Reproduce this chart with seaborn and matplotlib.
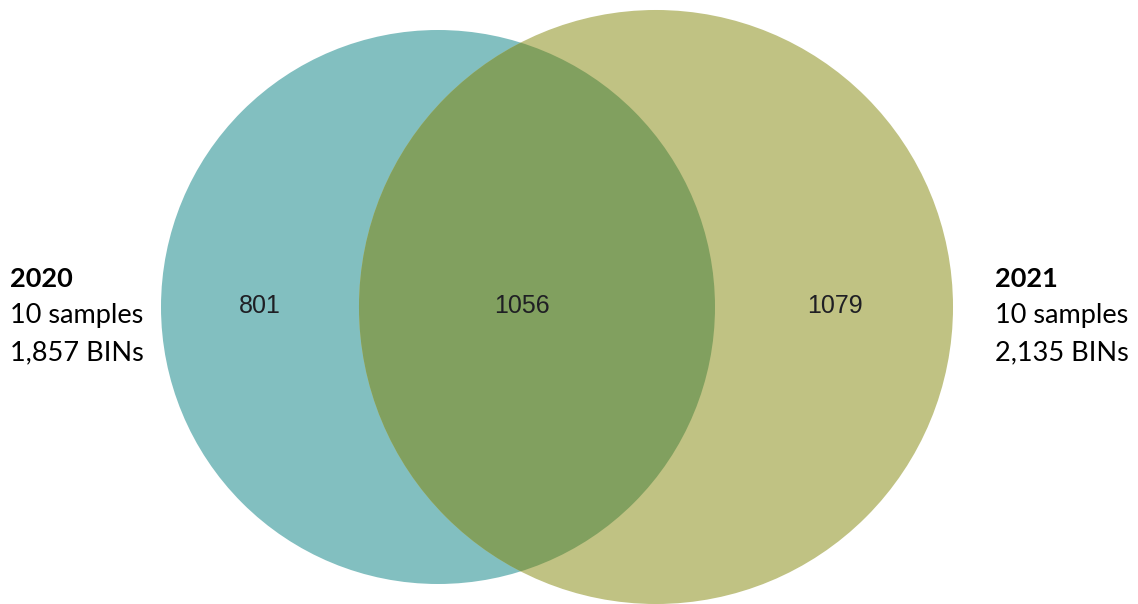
import numpy as np
import matplotlib
matplotlib.use("Agg")
import matplotlib.pyplot as plt
import seaborn as sns
from matplotlib.patches import Circle

# set sizes
years = ["2020", "2021"]
samples = [10, 10]
totals = [1857, 2135]
only_2020 = 801
shared = 1056
only_2021 = 1079

colors = ["#82bfc0", "#c0c283"]
overlap_color = "#81a05f"

sns.set_theme(style="white")
plt.rcParams["font.family"] = ["Liberation Sans", "DejaVu Sans"]

fig = plt.figure(figsize=(11.38, 6.04), dpi=100)
ax = fig.add_axes([0, 0, 1, 1])
ax.set_xlim(0, 1138)
ax.set_ylim(604, 0)
ax.set_aspect("equal")
ax.axis("off")

# circle area proportional to each year's total
scale = 277 / np.sqrt(totals[0])
radii = [scale * np.sqrt(t) for t in totals]
centers = [(438, 307), (656, 307)]

left = Circle(centers[0], radii[0], facecolor=colors[0], edgecolor="none")
right = Circle(centers[1], radii[1], facecolor=colors[1], edgecolor="none")
ax.add_patch(left)
ax.add_patch(right)

# overlap: left circle clipped to right circle
lens = Circle(centers[0], radii[0], facecolor=overlap_color, edgecolor="none")
ax.add_patch(lens)
clip = Circle(centers[1], radii[1], transform=ax.transData)
lens.set_clip_path(clip)

num_kw = dict(ha="center", va="center", fontsize=18, color="#1f1f24",
              family=["Liberation Sans", "DejaVu Sans"])
ax.text(260, 306, str(only_2020), **num_kw)
ax.text(522, 306, str(shared), **num_kw)
ax.text(835, 306, str(only_2021), **num_kw)

lab_font = ["Lato", "DejaVu Sans"]
for x, yr, n, tot in [(10, years[0], samples[0], totals[0]),
                      (995, years[1], samples[1], totals[1])]:
    ax.text(x, 279, yr, ha="left", va="center", fontsize=19.5,
            fontweight="bold", family=lab_font, color="black")
    ax.text(x, 316, f"{n} samples", ha="left", va="center", fontsize=19.5,
            family=lab_font, color="black")
    ax.text(x, 353, f"{tot:,} BINs", ha="left", va="center", fontsize=19.5,
            family=lab_font, color="black")

fig.savefig("out.png", dpi=100)
